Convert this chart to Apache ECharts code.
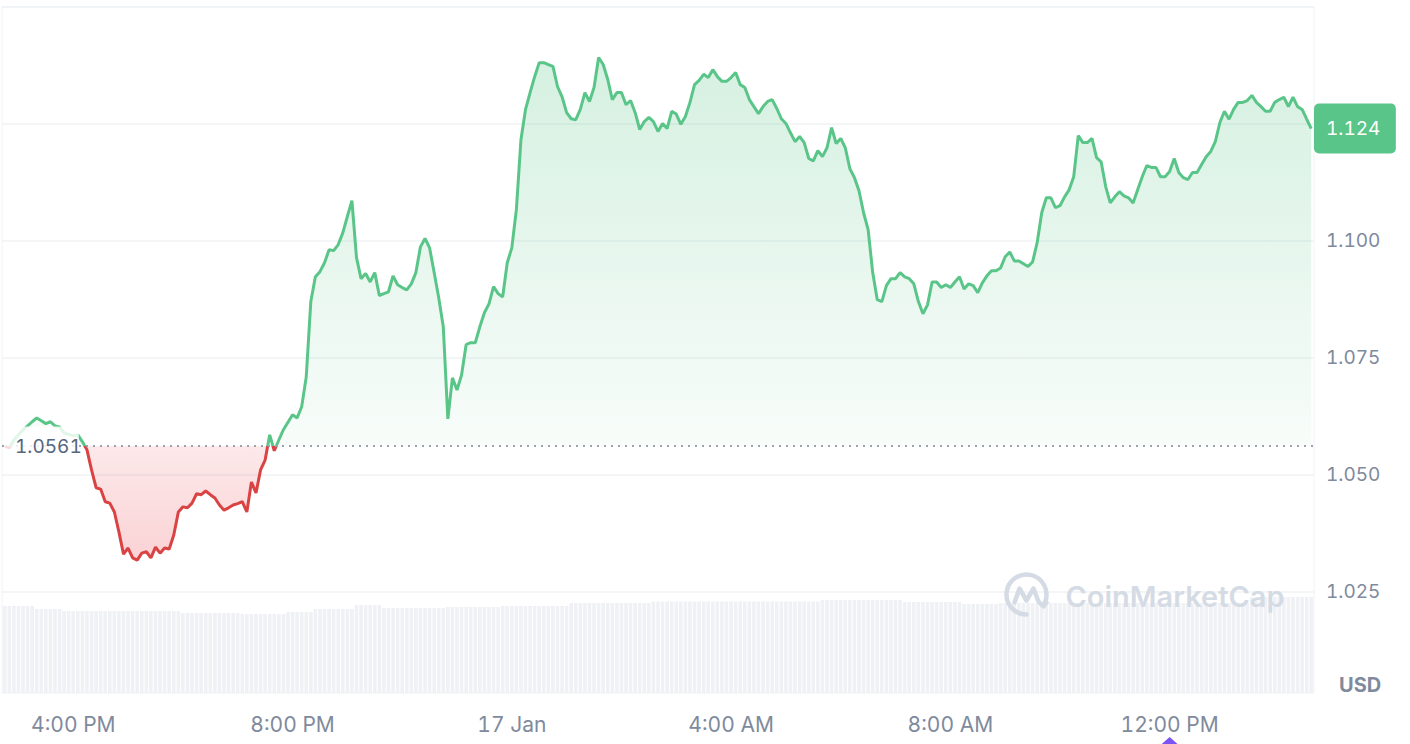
<!DOCTYPE html>
<html><head><meta charset="utf-8">
<script src="https://cdn.jsdelivr.net/npm/echarts@6/dist/echarts.min.js"></script>
<style>html,body{margin:0;padding:0;background:#fff}#chart{width:1410px;height:744px;font-feature-settings:"tnum" 1;font-variant-numeric:tabular-nums}</style>
</head><body><div id="chart"></div>
<script>
// time in minutes since 16 Jan 00:00; first sample 14:45, one sample every 5 minutes
const START_MINUTE = 885;
const STEP_MINUTES = 5;
const prices = [
1.0561,1.0557,1.0574,1.0585,1.0596,1.0604,1.0613,1.0621,1.0615,1.0609,
1.0613,1.0604,1.0602,1.0589,1.0586,1.0583,1.0585,1.0570,1.0553,1.0510,
1.0472,1.0469,1.0442,1.0439,1.0420,1.0377,1.0330,1.0343,1.0322,1.0317,
1.0332,1.0335,1.0322,1.0345,1.0332,1.0343,1.0341,1.0371,1.0420,1.0431,
1.0429,1.0439,1.0459,1.0457,1.0465,1.0457,1.0450,1.0435,1.0424,1.0429,
1.0435,1.0438,1.0442,1.0420,1.0484,1.0461,1.0510,1.0531,1.0585,1.0551,
1.0574,1.0596,1.0612,1.0628,1.0621,1.0645,1.0709,1.0870,1.0923,1.0934,
1.0953,1.0981,1.0979,1.0992,1.1017,1.1052,1.1086,1.0964,1.0919,1.0930,
1.0912,1.0932,1.0883,1.0887,1.0891,1.0925,1.0906,1.0900,1.0895,1.0908,
1.0932,1.0987,1.1005,1.0985,1.0932,1.0878,1.0816,1.0619,1.0707,1.0681,
1.0713,1.0778,1.0782,1.0782,1.0816,1.0846,1.0865,1.0902,1.0887,1.0880,
1.0953,1.0985,1.1067,1.1216,1.1281,1.1317,1.1351,1.1381,1.1381,1.1377,
1.1373,1.1330,1.1308,1.1274,1.1261,1.1259,1.1281,1.1317,1.1298,1.1328,
1.1392,1.1377,1.1345,1.1302,1.1317,1.1317,1.1291,1.1300,1.1274,1.1238,
1.1255,1.1264,1.1255,1.1234,1.1251,1.1240,1.1277,1.1271,1.1249,1.1266,
1.1296,1.1334,1.1343,1.1356,1.1349,1.1366,1.1351,1.1341,1.1341,1.1349,
1.1360,1.1334,1.1328,1.1302,1.1287,1.1272,1.1287,1.1298,1.1302,1.1283,
1.1261,1.1251,1.1231,1.1212,1.1223,1.1210,1.1176,1.1171,1.1193,1.1180,
1.1199,1.1242,1.1208,1.1219,1.1199,1.1154,1.1135,1.1107,1.1060,1.1024,
1.0932,1.0874,1.0870,1.0904,1.0919,1.0919,1.0932,1.0923,1.0919,1.0908,
1.0870,1.0844,1.0863,1.0912,1.0912,1.0900,1.0906,1.0900,1.0912,1.0923,
1.0897,1.0908,1.0904,1.0889,1.0910,1.0925,1.0936,1.0936,1.0942,1.0966,
1.0976,1.0957,1.0957,1.0951,1.0945,1.0955,1.0996,1.1060,1.1092,1.1092,
1.1071,1.1075,1.1094,1.1109,1.1137,1.1225,1.1210,1.1210,1.1219,1.1178,
1.1169,1.1116,1.1081,1.1094,1.1105,1.1096,1.1092,1.1081,1.1109,1.1137,
1.1161,1.1157,1.1157,1.1137,1.1137,1.1148,1.1176,1.1146,1.1135,1.1131,
1.1146,1.1146,1.1163,1.1180,1.1191,1.1212,1.1253,1.1277,1.1260,1.1281,
1.1296,1.1296,1.1300,1.1311,1.1296,1.1287,1.1277,1.1277,1.1296,1.1302,
1.1307,1.1287,1.1307,1.1287,1.1281,1.1260,1.1240
];
const volumes = [
8.7,8.7,8.7,8.7,8.7,8.7,8.7,8.4,8.4,8.4,
8.4,8.4,8.4,8.2,8.2,8.2,8.2,8.2,8.2,8.2,
8.2,8.2,8.2,8.2,8.2,8.2,8.2,8.2,8.2,8.2,
8.2,8.2,8.2,8.2,8.2,8.2,8.2,8.2,8.2,8.0,
8.0,8.0,8.0,8.0,8.0,8.0,8.0,8.0,8.0,8.0,
8.0,8.0,7.9,7.9,7.9,7.9,7.9,7.9,7.9,7.9,
7.9,7.9,8.1,8.1,8.1,8.1,8.1,8.1,8.4,8.4,
8.4,8.4,8.4,8.4,8.4,8.4,8.4,8.8,8.8,8.8,
8.8,8.8,8.8,8.5,8.5,8.5,8.5,8.5,8.5,8.5,
8.5,8.5,8.5,8.5,8.5,8.5,8.5,8.6,8.6,8.6,
8.6,8.6,8.6,8.6,8.6,8.6,8.6,8.6,8.6,8.7,
8.7,8.7,8.7,8.7,8.7,8.7,8.7,8.7,8.7,8.7,
8.7,8.7,8.7,8.7,9.0,9.0,9.0,9.0,9.0,9.0,
9.0,9.0,9.0,9.0,9.0,9.0,9.0,9.0,9.0,9.0,
9.0,9.0,9.15,9.15,9.15,9.15,9.15,9.15,9.15,9.15,
9.15,9.15,9.15,9.15,9.15,9.15,9.15,9.15,9.15,9.15,
9.15,9.15,9.15,9.15,9.15,9.15,9.15,9.15,9.15,9.15,
9.15,9.15,9.15,9.15,9.15,9.15,9.15,9.15,9.15,9.3,
9.3,9.3,9.3,9.3,9.3,9.3,9.3,9.3,9.3,9.3,
9.3,9.3,9.3,9.3,9.3,9.3,9.3,9.1,9.1,9.1,
9.1,9.1,9.1,9.1,9.1,9.1,9.1,9.1,9.1,9.1,
8.9,8.9,8.9,8.9,8.9,8.9,8.9,8.9,9.0,9.0,
9.0,9.0,9.0,9.0,9.0,9.0,9.0,9.0,9.0,9.0,
9.0,9.0,9.0,9.0,9.0,9.0,9.0,9.0,9.0,9.0,
9.0,9.0,9.0,9.0,9.0,9.0,9.0,9.0,9.0,9.0,
9.0,9.0,9.0,9.0,9.0,9.0,9.0,9.0,9.0,9.0,
9.0,9.0,9.0,9.0,9.0,9.0,9.0,9.0,9.0,9.0,
9.0,9.0,9.0,9.6,9.6,9.6,9.6,9.6,9.6,9.6,
9.6,9.6,9.6,9.6,9.6,9.6,9.6
];
const basePrice = 1.0561;
const priceTickLabels = [1.025, 1.05, 1.075, 1.1];
const timeTickMinutes = [960, 1200, 1440, 1680, 1920, 2160];
const timeTickLabels = ['4:00 PM', '8:00 PM', '17 Jan', '4:00 AM', '8:00 AM', '12:00 PM'];
const markerMinute = 2160;

const GREEN = '#5ac588', RED = '#d94343', GREY = '#808a9d', GRIDC = '#eff2f5', WM = '#d5dbe4';
const FONT = 'Inter, "Noto Sans", sans-serif';

const minuteOf = i => START_MINUTE + i * STEP_MINUTES;
const priceData = prices.map((p, i) => [minuteOf(i), p]);
const volumeData = volumes.map((v, i) => [minuteOf(i), v]);
const lastPrice = prices[prices.length - 1];
const maxP = Math.max(...prices), minP = Math.min(...prices);
const f = (maxP - basePrice) / (maxP - minP);

const X_MIN = 882, X_MAX = 2318;
const P_MIN = 1.025, P_MAX = 1.15;

const chart = echarts.init(document.getElementById('chart'), null, {renderer: 'svg'});
const option = {
  animation: false,
  backgroundColor: '#ffffff',
  textStyle: {fontFamily: FONT},
  grid: [
    {left: 2, right: 96, top: 7, bottom: 152.5, outerBoundsMode: 'none'},
    {left: 2, right: 96, top: 7, bottom: 51, show: true, borderColor: GRIDC, borderWidth: 1, outerBoundsMode: 'none'}
  ],
  xAxis: [
    {type: 'value', gridIndex: 0, min: X_MIN, max: X_MAX, show: false},
    {type: 'value', gridIndex: 1, min: X_MIN, max: X_MAX,
      axisLine: {show: false}, axisTick: {show: false}, splitLine: {show: false},
      axisLabel: {customValues: timeTickMinutes, color: GREY, fontSize: 21, margin: 21,
        formatter: v => timeTickLabels[timeTickMinutes.indexOf(v)] || ''}}
  ],
  yAxis: [
    {type: 'value', gridIndex: 0, position: 'right', min: P_MIN, max: P_MAX, interval: 0.025,
      axisLine: {show: false}, axisTick: {show: false},
      splitLine: {show: true, lineStyle: {color: GRIDC, width: 1.5}},
      axisLabel: {customValues: priceTickLabels, color: GREY, fontSize: 19, margin: 12, formatter: v => v.toFixed(3)}},
    {type: 'value', gridIndex: 0, position: 'right', min: P_MIN, max: P_MAX, z: 10,
      axisLine: {show: false}, axisTick: {show: false}, splitLine: {show: false},
      axisLabel: {customValues: [lastPrice], color: '#ffffff', fontSize: 19, lineHeight: 22, margin: 0,
        backgroundColor: GREEN, borderRadius: 5, padding: [14, 27, 14, 12],
        formatter: v => v.toFixed(3)}},
    {type: 'value', gridIndex: 0, position: 'left', min: P_MIN, max: P_MAX, z: 10,
      axisLine: {show: false}, axisTick: {show: false}, splitLine: {show: false},
      axisLabel: {inside: true, customValues: [basePrice], color: '#58667e', fontSize: 19, lineHeight: 22, margin: 2,
        backgroundColor: 'rgba(255,255,255,0.82)', padding: [11, 8, 6, 11],
        formatter: v => v.toFixed(4)}},
    {type: 'value', gridIndex: 1, min: 0, max: 68.6, show: false}
  ],
  visualMap: {
    type: 'piecewise', show: false, seriesIndex: 0, dimension: 1,
    pieces: [{gte: 0, lt: basePrice, color: RED}, {gte: basePrice, lte: 10, color: GREEN}]
  },
  series: [
    {
      type: 'line', xAxisIndex: 0, yAxisIndex: 0, data: priceData, showSymbol: false, z: 3,
      lineStyle: {width: 3},
      areaStyle: {
        origin: basePrice,
        color: {type: 'linear', x: 0, y: 0, x2: 0, y2: 1, colorStops: [
          {offset: 0, color: 'rgba(90,197,136,0.36)'},
          {offset: f, color: 'rgba(90,197,136,0.06)'},
          {offset: f, color: 'rgba(234,57,67,0.16)'},
          {offset: 1, color: 'rgba(234,57,67,0.32)'}
        ]}
      },
      markLine: {
        silent: true, symbol: 'none', precision: 4, label: {show: false},
        lineStyle: {type: [2, 5], color: '#9aa2af', width: 2},
        data: [{yAxis: basePrice}]
      }
    },
    {
      type: 'bar', xAxisIndex: 1, yAxisIndex: 3, data: volumeData, barWidth: 3.6, z: 1, silent: true,
      itemStyle: {color: '#eff1f5'}
    }
  ]
};
chart.setOption(option);

const mx = chart.convertToPixel({xAxisIndex: 1}, markerMinute);
chart.setOption({
  graphic: [
    {type: 'group', id: 'wm', left: 1004, top: 572, z: 50, silent: true, children: [
      {type: 'arc', z: 50, shape: {cx: 23, cy: 23, r: 20, startAngle: Math.PI * 0.5, endAngle: Math.PI * 2.12, clockwise: true},
        style: {stroke: WM, lineWidth: 4.5, fill: null, lineCap: 'round'}},
      {type: 'polyline', z: 50, shape: {points: [[11, 31], [16, 17], [23, 29], [30, 17], [35, 30], [40, 35], [43, 31]]},
        style: {stroke: WM, lineWidth: 4.5, fill: null, lineJoin: 'round', lineCap: 'round'}},
      {type: 'text', z: 50, x: 62, y: 25, style: {text: 'CoinMarketCap', font: '600 29px ' + FONT, fill: WM, verticalAlign: 'middle'}}
    ]},
    {type: 'text', id: 'usd', x: 1339, y: 685, z: 50, style: {text: 'USD', font: '700 20px ' + FONT, fill: GREY, verticalAlign: 'middle'}},
    {type: 'polygon', id: 'mk', z: 50, shape: {points: [[mx, 737], [mx - 9, 745], [mx + 9, 745]]}, style: {fill: '#7d52f4'}}
  ]
});
</script></body></html>
